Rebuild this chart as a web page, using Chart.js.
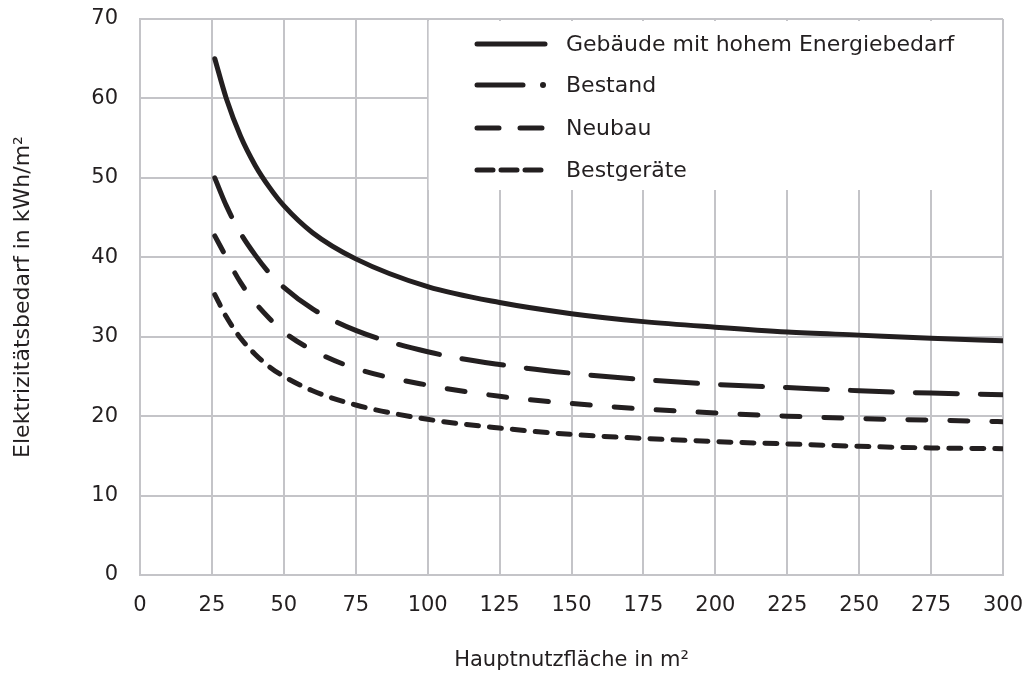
<!DOCTYPE html>
<html>
<head>
<meta charset="utf-8">
<script src="https://cdn.jsdelivr.net/npm/chart.js@4"></script>
<style>
  html, body { margin: 0; padding: 0; background: #fff; }
  #wrap { width: 1030px; height: 678px; }
</style>
</head>
<body>
<div id="wrap"><canvas id="myChart" width="1030" height="678"></canvas></div>
<script>
// data
var flaeche = [26, 30, 35, 40, 45, 50, 60, 75, 100, 125, 150, 175, 200, 225, 250, 275, 300];
var hoherBedarf = [65, 60, 55.2, 51.6, 48.8, 46.5, 43.1, 39.8, 36.3, 34.3, 32.9, 31.9, 31.2, 30.6, 30.2, 29.8, 29.5];
var bestand = [50, 46.5, 43, 40.3, 38, 36.2, 33.5, 30.8, 28.1, 26.5, 25.4, 24.6, 24.0, 23.6, 23.2, 22.9, 22.7];
var neubau = [42.7, 40, 36.8, 34.3, 32.3, 30.6, 28.3, 26, 23.9, 22.5, 21.6, 20.9, 20.4, 20.0, 19.7, 19.5, 19.3];
var bestgeraete = [35.3, 32.5, 29.8, 27.8, 26.2, 25, 23.2, 21.4, 19.6, 18.5, 17.7, 17.2, 16.8, 16.5, 16.2, 16.0, 15.9];
var seriesNames = ["Gebäude mit hohem Energiebedarf", "Bestand", "Neubau", "Bestgeräte"];

var ink = "#231f20";
var gridColor = "#c4c4c8";
var fontFamily = "'DejaVu Sans', sans-serif";
var fontSize = 21;

function toPoints(values) {
  return flaeche.map(function (x, i) {
    return { x: x, y: values[i] };
  });
}

function makeSet(label, values, dash) {
  return {
    label: label,
    data: toPoints(values),
    borderColor: ink,
    borderWidth: 5,
    borderDash: dash,
    borderCapStyle: "round",
    pointRadius: 0,
    fill: false,
    cubicInterpolationMode: "monotone",
  };
}

// white legend box drawn over the grid, top right
var legendBox = {
  id: "legendBox",
  afterDatasetsDraw: function (chart) {
    var ctx = chart.ctx;
    var area = chart.chartArea;
    var left = chart.scales.x.getPixelForValue(100) + 1;
    ctx.save();
    ctx.fillStyle = "#fff";
    ctx.fillRect(left, area.top + 2, area.right - 1 - left, 190 - area.top - 2);

    var rows = [44, 85, 128, 170];
    var dashes = [[], [46, 100], [22, 21], [16, 8]];
    ctx.strokeStyle = ink;
    ctx.fillStyle = ink;
    ctx.lineWidth = 5;
    ctx.lineCap = "round";
    for (var i = 0; i < rows.length; i++) {
      ctx.setLineDash(dashes[i]);
      ctx.beginPath();
      ctx.moveTo(477, rows[i]);
      ctx.lineTo(545, rows[i]);
      ctx.stroke();
    }
    // dot of the dash-dot symbol
    ctx.beginPath();
    ctx.arc(543, rows[1], 3, 0, Math.PI * 2);
    ctx.fill();

    ctx.setLineDash([]);
    ctx.font = "22px " + fontFamily;
    ctx.textBaseline = "middle";
    ctx.textAlign = "left";
    for (var j = 0; j < rows.length; j++) {
      ctx.fillText(seriesNames[j], 566, rows[j] + 1);
    }
    ctx.restore();
  },
};

const ctx = document.getElementById("myChart").getContext("2d");

let myChart = new Chart(ctx, {
  type: "line",
  data: {
    datasets: [
      makeSet(seriesNames[0], hoherBedarf, []),
      makeSet(seriesNames[1], bestand, [42, 23]),
      makeSet(seriesNames[2], neubau, [18, 24]),
      makeSet(seriesNames[3], bestgeraete, [12, 11]),
    ],
  },
  options: {
    responsive: false,
    animation: false,
    layout: {
      padding: { left: 0, top: 19, right: 27, bottom: 0 },
    },
    plugins: {
      legend: { display: false },
      tooltip: { enabled: false },
    },
    scales: {
      x: {
        type: "linear",
        min: 0,
        max: 300,
        afterFit: function (scale) {
          scale.height = 103;
          scale.paddingLeft = 0;
          scale.paddingRight = 0;
        },
        ticks: {
          stepSize: 25,
          color: ink,
          padding: 18,
          font: { size: fontSize, family: fontFamily },
        },
        grid: {
          color: gridColor,
          lineWidth: 2,
          drawTicks: false,
        },
        border: { color: gridColor, width: 2 },
        title: {
          display: true,
          text: "Hauptnutzfläche in m²",
          color: ink,
          font: { size: fontSize, family: fontFamily },
          padding: { top: 0, bottom: 5 },
        },
      },
      y: {
        min: 0,
        max: 70,
        afterFit: function (scale) {
          scale.width = 140;
          scale.paddingTop = 0;
          scale.paddingBottom = 0;
        },
        ticks: {
          stepSize: 10,
          color: ink,
          padding: 22,
          font: { size: fontSize, family: fontFamily },
        },
        grid: {
          color: gridColor,
          lineWidth: 2,
          drawTicks: false,
        },
        border: { color: gridColor, width: 2 },
        title: {
          display: true,
          text: "Elektrizitätsbedarf in kWh/m²",
          color: ink,
          font: { size: 22, family: fontFamily },
          padding: { top: 10, bottom: 0 },
        },
      },
    },
  },
  plugins: [legendBox],
});
</script>
</body>
</html>
